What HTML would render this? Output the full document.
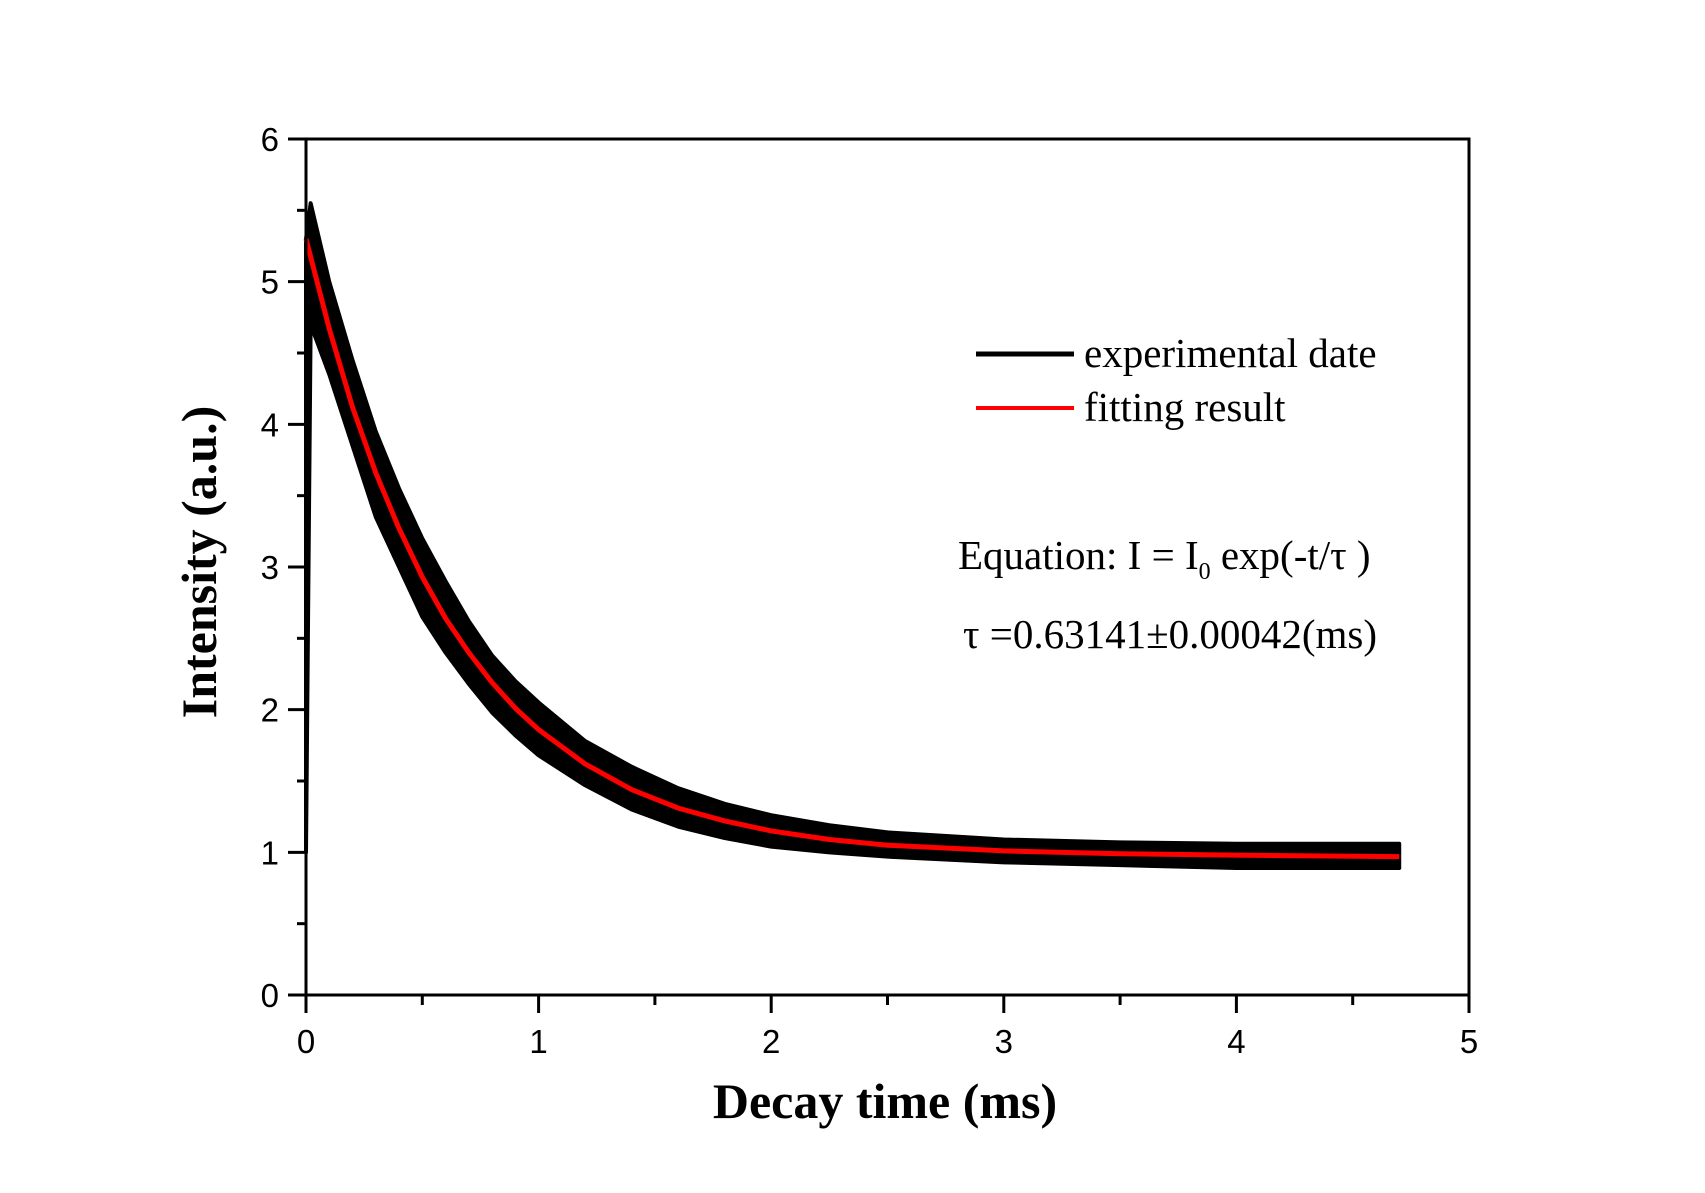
<!DOCTYPE html>
<html><head><meta charset="utf-8"><style>
html,body{margin:0;padding:0;background:#fff;}
svg{display:block;}
</style></head><body>
<svg id="chart" width="1705" height="1193" xmlns="http://www.w3.org/2000/svg">
<g id="plot"></g>
<g id="axes"></g>
<text x="885" y="1118" text-anchor="middle" font-family="Liberation Serif, serif" font-weight="bold" font-size="50">Decay time (ms)</text>
<text transform="translate(216,562) rotate(-90)" text-anchor="middle" font-family="Liberation Serif, serif" font-weight="bold" font-size="50">Intensity (a.u.)</text>
<g>
<line x1="976" y1="354" x2="1074" y2="354" stroke="#000" stroke-width="5"/>
<text x="1084" y="367" font-family="Liberation Serif, serif" font-size="41">experimental date</text>
<line x1="976" y1="408" x2="1074" y2="408" stroke="#f00" stroke-width="4"/>
<text x="1084" y="421" font-family="Liberation Serif, serif" font-size="41">fitting result</text>
</g>
<text x="958" y="569" font-family="Liberation Serif, serif" font-size="41">Equation: I = I<tspan font-size="24" dy="10">0</tspan><tspan dy="-10"> exp(-t/τ   )</tspan></text>
<text x="963" y="648" font-family="Liberation Serif, serif" font-size="41">τ   =0.63141±0.00042(ms)</text>
</svg>
<script>
const tVals=[0,0.02,0.1,0.2,0.3,0.4,0.5,0.6,0.7,0.8,0.9,1.0,1.2,1.4,1.6,1.8,2.0,2.25,2.5,3.0,3.5,4.0,4.7];
const upperVals=[5.3,5.55,5.0,4.45,3.95,3.55,3.2,2.9,2.62,2.38,2.2,2.05,1.78,1.6,1.45,1.34,1.26,1.19,1.14,1.09,1.07,1.06,1.06];
const lowerVals=[1.0,4.7,4.35,3.85,3.35,3.0,2.65,2.4,2.18,1.98,1.82,1.68,1.47,1.3,1.18,1.1,1.04,1.0,0.97,0.93,0.91,0.89,0.89];
const fitT=[0,0.1,0.2,0.3,0.4,0.5,0.6,0.7,0.8,0.9,1.0,1.2,1.4,1.6,1.8,2.0,2.25,2.5,3.0,3.5,4.0,4.7];
const fitVals=[5.30,4.67,4.12,3.66,3.27,2.93,2.64,2.40,2.19,2.01,1.86,1.62,1.44,1.31,1.22,1.15,1.09,1.05,1.01,0.99,0.98,0.97];
const xTicks=[0,1,2,3,4,5];
const yTicks=[0,1,2,3,4,5,6];
const L=306,R=1469,T=139,B=995;
const xs=v=>L+(v-0)/(5-0)*(R-L);
const ys=v=>B-(v-0)/(6-0)*(B-T);
const NS='http://www.w3.org/2000/svg';
const plot=document.getElementById('plot'),axes=document.getElementById('axes');
function mk(tag,attrs,parent){const e=document.createElementNS(NS,tag);for(const k in attrs)e.setAttribute(k,attrs[k]);parent.appendChild(e);return e;}
let pts=[];
for(let i=0;i<tVals.length;i++)pts.push(xs(tVals[i])+','+ys(upperVals[i]));
for(let i=tVals.length-1;i>=0;i--)pts.push(xs(tVals[i])+','+ys(lowerVals[i]));
const band=mk('polygon',{points:pts.join(' '),fill:'#000',stroke:'#000','stroke-width':4,'stroke-linejoin':'round'},plot);


const fit=mk('polyline',{points:fitT.map((t,i)=>xs(t)+','+ys(fitVals[i])).join(' '),fill:'none',stroke:'#f00','stroke-width':5,'stroke-linejoin':'round'},plot);


const frame=mk('rect',{x:L,y:T,width:R-L,height:B-T,fill:'none',stroke:'#000','stroke-width':3},axes);


xTicks.forEach(v=>{
 const tk=mk('line',{x1:xs(v),x2:xs(v),y1:B,y2:B+18,stroke:'#000','stroke-width':3},axes);
 
 
 if(v<5){const m=mk('line',{x1:xs(v+0.5),x2:xs(v+0.5),y1:B,y2:B+10,stroke:'#000','stroke-width':3},axes);
 
 }
 const lb=mk('text',{x:xs(v),y:B+58,'text-anchor':'middle','font-family':'Liberation Sans, sans-serif','font-size':33},axes);
 lb.textContent=v;
 
 
});
yTicks.forEach(v=>{
 const tk=mk('line',{x1:L-18,x2:L,y1:ys(v),y2:ys(v),stroke:'#000','stroke-width':3},axes);
 
 
 if(v<6){const m=mk('line',{x1:L-9,x2:L,y1:ys(v+0.5),y2:ys(v+0.5),stroke:'#000','stroke-width':3},axes);
 
 }
 const lb=mk('text',{x:L-27,y:ys(v)+12,'text-anchor':'end','font-family':'Liberation Sans, sans-serif','font-size':33},axes);
 lb.textContent=v;
 
 
});
</script>
</body></html>
